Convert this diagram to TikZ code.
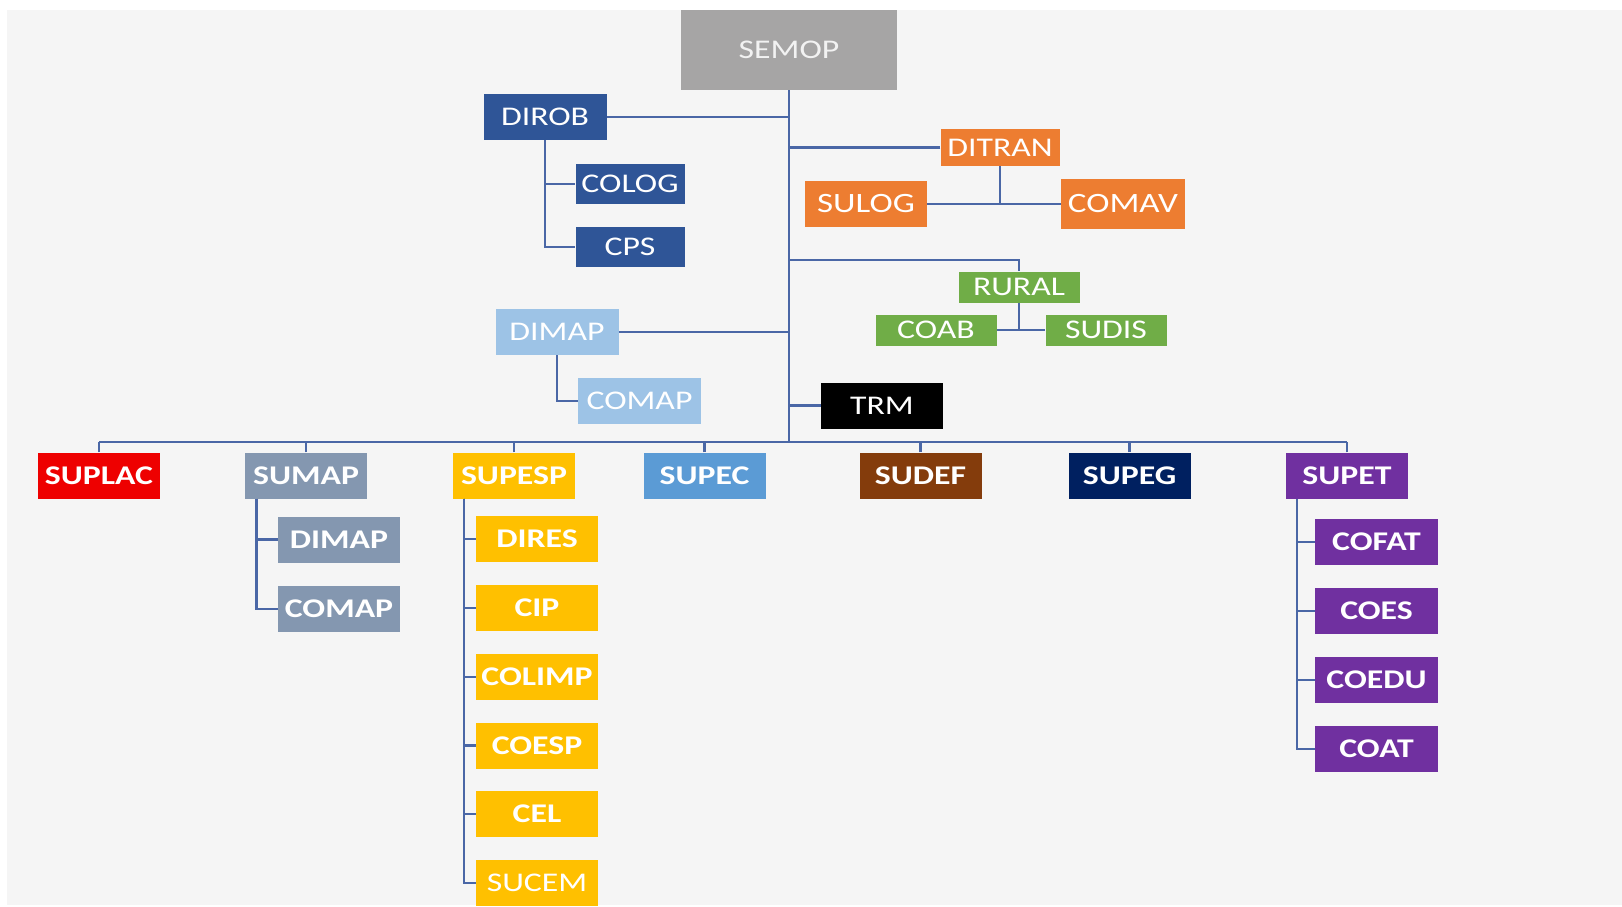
\documentclass[tikz,border=0pt]{standalone}
\usepackage{fontspec}
\setmainfont{Carlito}
\usepackage{graphicx}
\definecolor{bg}{HTML}{F5F5F5}
\definecolor{linec}{HTML}{4A67A6}
\definecolor{cgray}{HTML}{A6A5A5}
\definecolor{semtext}{HTML}{F2F2F2}
\definecolor{cblue}{HTML}{2F5597}
\definecolor{corange}{HTML}{ED7D31}
\definecolor{cgreen}{HTML}{70AD47}
\definecolor{clight}{HTML}{9DC3E6}
\definecolor{cred}{HTML}{EE0000}
\definecolor{cslate}{HTML}{8497B0}
\definecolor{camber}{HTML}{FFC000}
\definecolor{cmid}{HTML}{5B9BD5}
\definecolor{cbrown}{HTML}{843C0C}
\definecolor{cnavy}{HTML}{002060}
\definecolor{cpurple}{HTML}{7030A0}
\newcommand{\wide}[1]{\scalebox{1.25}[1]{#1}}
\begin{document}
\begin{tikzpicture}[x=1pt,y=-1pt,
  box/.style={rectangle, inner sep=0pt, text=white, minimum width=122pt, minimum height=46pt, font=\fontsize{27}{31}\selectfont},
  bbox/.style={box, font=\fontsize{27}{31}\selectfont\bfseries},
  conn/.style={draw=linec, line width=2.2pt}]
\useasboundingbox (0,0) rectangle (1622,907);
\fill[bg] (7,10) rectangle (1622,905);
% upper part
\node[box, fill=cgray, text=semtext, minimum width=216pt, minimum height=80pt] (semop) at (789,50) {\wide{SEMOP}};
\node[box, fill=cblue, minimum width=123pt] (dirob) at (545,117) {\wide{DIROB}};
\node[box, fill=cblue, minimum width=109pt, minimum height=40pt] (colog) at (630,184) {\wide{COLOG}};
\node[box, fill=cblue, minimum width=109pt, minimum height=40pt] (cps) at (630,247) {\wide{CPS}};
\node[box, fill=corange, minimum width=119pt, minimum height=37pt] (ditran) at (1000,147.5) {\wide{DITRAN}};
\node[box, fill=corange, font=\fontsize{28}{32}\selectfont] (sulog) at (866,204) {\wide{SULOG}};
\node[box, fill=corange, minimum width=124pt, minimum height=50pt, font=\fontsize{28}{32}\selectfont] (comav) at (1123,204) {\wide{COMAV}};
\node[box, fill=cgreen, minimum width=121pt, minimum height=31pt] (rural) at (1019,287) {\wide{RURAL}};
\node[box, fill=cgreen, minimum width=121pt, minimum height=31pt] (coab) at (936,330) {\wide{COAB}};
\node[box, fill=cgreen, minimum width=121pt, minimum height=31pt] (sudis) at (1106,330) {\wide{SUDIS}};
\node[box, fill=clight, minimum width=123pt] (dimapa) at (557,332) {\wide{DIMAP}};
\node[box, fill=clight, minimum width=123pt] (comapa) at (639.5,401) {\wide{COMAP}};
\node[box, fill=black] (trm) at (882,405.5) {\wide{TRM}};
% bus row
\node[bbox, fill=cred] (suplac) at (99,475.5) {\wide{SUPLAC}};
\node[bbox, fill=cslate] (sumap) at (306,475.5) {\wide{SUMAP}};
\node[bbox, fill=camber] (supesp) at (514,475.5) {\wide{SUPESP}};
\node[bbox, fill=cmid] (supec) at (704.5,475.5) {\wide{SUPEC}};
\node[bbox, fill=cbrown] (sudef) at (920.5,475.5) {\wide{SUDEF}};
\node[bbox, fill=cnavy] (supeg) at (1129.5,475.5) {\wide{SUPEG}};
\node[bbox, fill=cpurple] (supet) at (1347,475.5) {\wide{SUPET}};
% SUMAP children
\node[bbox, fill=cslate] (dimapb) at (339,539.5) {\wide{DIMAP}};
\node[bbox, fill=cslate] (comapb) at (339,609) {\wide{COMAP}};
% SUPESP children
\node[bbox, fill=camber] (dires) at (537,539) {\wide{DIRES}};
\node[bbox, fill=camber] (cip) at (537,608) {\wide{CIP}};
\node[bbox, fill=camber] (colimp) at (537,677) {\wide{COLIMP}};
\node[bbox, fill=camber] (coesp) at (537,745.5) {\wide{COESP}};
\node[bbox, fill=camber] (cel) at (537,814) {\wide{CEL}};
\node[box, fill=camber] (sucem) at (537,883) {\wide{SUCEM}};
% SUPET children
\node[bbox, fill=cpurple, minimum width=123pt] (cofat) at (1376.5,542) {\wide{COFAT}};
\node[bbox, fill=cpurple, minimum width=123pt] (coes) at (1376.5,611) {\wide{COES}};
\node[bbox, fill=cpurple, minimum width=123pt] (coedu) at (1376.5,680) {\wide{COEDU}};
\node[bbox, fill=cpurple, minimum width=123pt] (coat) at (1376.5,749) {\wide{COAT}};
% connectors
\coordinate (busL) at (99,441.7);
\coordinate (rj) at (789,260);
\draw[conn] (semop.south) -- (semop.south |- busL);
\draw[conn] (suplac.north |- busL) -- (supet.north |- busL);
\foreach \n in {suplac,sumap,supesp,supec,sudef,supeg,supet}
  \draw[conn] (\n.north) -- (\n.north |- busL);
\draw[conn] (dirob.east) -- (dirob.east -| semop.south);
\draw[conn] (dirob.south) |- (colog.west);
\draw[conn] (dirob.south) |- (cps.west);
\draw[conn] (ditran.west) -- (ditran.west -| semop.south);
\draw[conn] (ditran.south) -- (ditran.south |- sulog.east);
\draw[conn] (sulog.east) -- (comav.west);
\draw[conn] (rj) -| (rural.north);
\draw[conn] (rural.south) -- (rural.south |- coab.east);
\draw[conn] (coab.east) -- (sudis.west);
\draw[conn] (dimapa.east) -- (dimapa.east -| semop.south);
\draw[conn] (dimapa.south) |- (comapa.west);
\draw[conn] (trm.west) -- (trm.west -| semop.south);
\foreach \c in {dimapb,comapb}
  \draw[conn] ([xshift=-49.5pt]sumap.south) |- (\c.west);
\foreach \c in {dires,cip,colimp,coesp,cel,sucem}
  \draw[conn] ([xshift=-50pt]supesp.south) |- (\c.west);
\foreach \c in {cofat,coes,coedu,coat}
  \draw[conn] ([xshift=-50pt]supet.south) |- (\c.west);
\end{tikzpicture}
\end{document}
